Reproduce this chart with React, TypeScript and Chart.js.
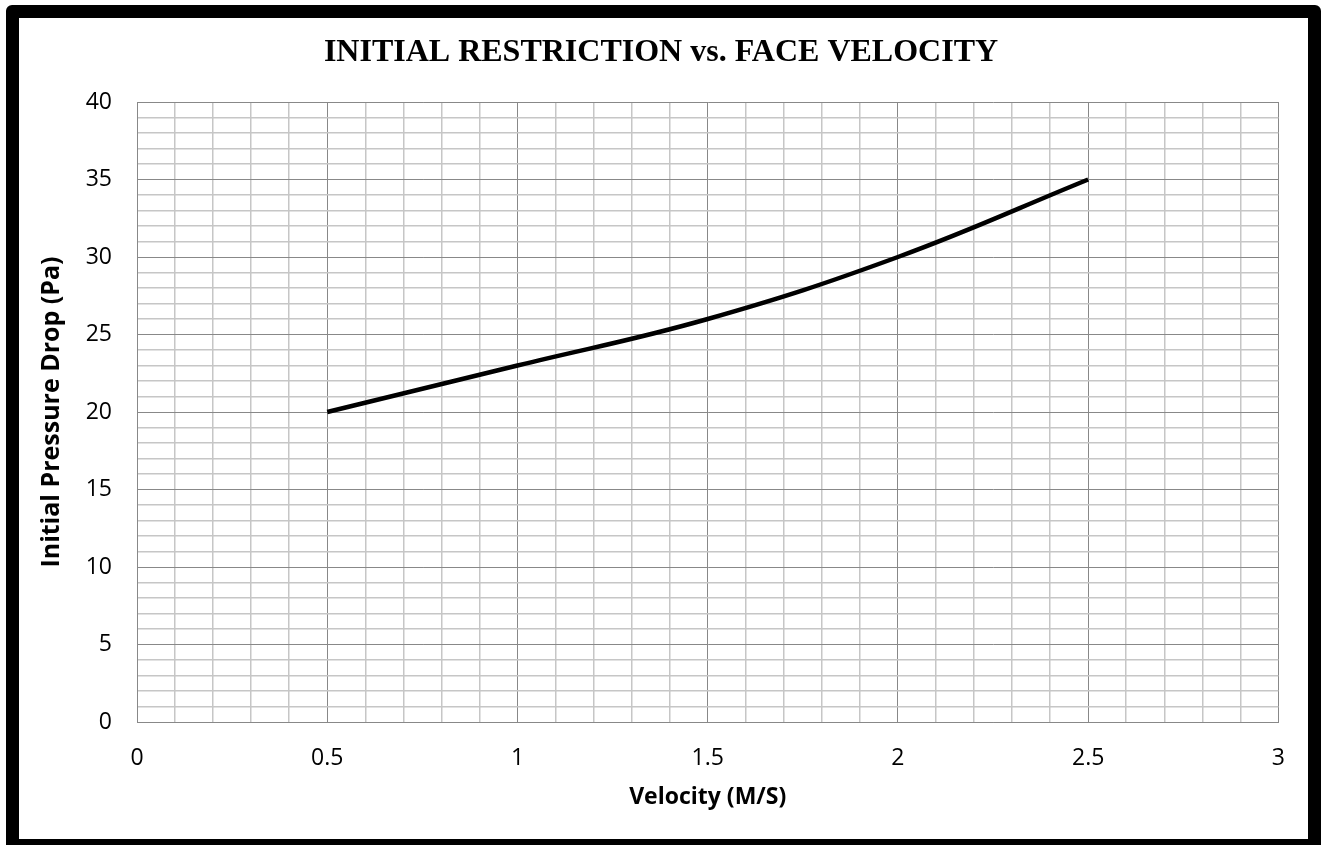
import React, { useEffect, useRef } from "react";
import { Chart, registerables } from "chart.js";

Chart.register(...registerables);

const velocity = [0.5, 1.0, 1.5, 2.0, 2.5];
const pressureDrop = [20, 23, 26, 30, 35];
const chartTitle = "INITIAL RESTRICTION vs. FACE VELOCITY";
const xTitle = "Velocity (M/S)";
const yTitle = "Initial Pressure Drop (Pa)";

const W = 1289;
const H = 821;

export default function App() {
  const ref = useRef<HTMLCanvasElement | null>(null);
  useEffect(() => {
    if (!ref.current) return;
    const isMajorX = (v: number) => Math.abs(Math.round(v * 2) - v * 2) < 1e-6;
    const isMajorY = (v: number) => Math.abs(Math.round(v / 5) - v / 5) < 1e-6;
    const chart = new Chart(ref.current, {
      type: "line",
      data: {
        datasets: [
          {
            data: velocity.map((x, i) => ({ x, y: pressureDrop[i] })),
            borderColor: "#000000",
            borderWidth: 4.5,
            pointRadius: 0,
            tension: 0.4,
            fill: false,
          },
        ],
      },
      options: {
        responsive: false,
        animation: false,
        layout: { padding: { left: 24, right: 29, top: 0, bottom: 0 } },
        plugins: {
          legend: { display: false },
          tooltip: { enabled: false },
          title: {
            display: true,
            text: chartTitle,
            color: "#000000",
            font: { family: "'Liberation Serif', 'Times New Roman', serif", size: 32, weight: "bold" },
            padding: { top: 16, bottom: 29.6 },
          },
        },
        scales: {
          x: {
            type: "linear",
            min: 0,
            max: 3,
            afterFit: (s: any) => {
              s.height = 117;
            },
            ticks: {
              stepSize: 0.1,
              autoSkip: false,
              maxRotation: 0,
              padding: 23,
              color: "#000000",
              font: { family: "'Open Sans', sans-serif", size: 23 },
              callback: (v: any) => (isMajorX(Number(v)) ? String(Math.round(Number(v) * 10) / 10) : ""),
            },
            grid: {
              drawTicks: false,
              color: (c: any) => (isMajorX(c.tick.value) ? "#888888" : "#c6c6c6"),
              lineWidth: (c: any) => (isMajorX(c.tick.value) ? 1 : 1.5),
            },
            border: { color: "#888888", width: 1 },
            title: {
              display: true,
              text: xTitle,
              color: "#000000",
              font: { family: "'Open Sans', sans-serif", size: 23, weight: "bold" },
              padding: { top: 28, bottom: 28 },
            },
          },
          y: {
            type: "linear",
            min: 0,
            max: 40,
            afterFit: (s: any) => {
              s.width = 94;
            },
            ticks: {
              stepSize: 1,
              autoSkip: false,
              padding: 25,
              color: "#000000",
              font: { family: "'Open Sans', sans-serif", size: 23 },
              callback: (v: any) => (isMajorY(Number(v)) ? String(Math.round(Number(v))) : ""),
            },
            grid: {
              drawTicks: false,
              color: (c: any) => (isMajorY(c.tick.value) ? "#888888" : "#c6c6c6"),
              lineWidth: (c: any) => (isMajorY(c.tick.value) ? 1 : 1.5),
            },
            border: { color: "#888888", width: 1 },
            title: {
              display: true,
              text: yTitle,
              color: "#000000",
              font: { family: "'Open Sans', sans-serif", size: 25, weight: "bold" },
              padding: { top: -6, bottom: 0 },
            },
          },
        },
      },
    });
    return () => chart.destroy();
  }, []);

  return (
    <div
      style={{
        position: "absolute",
        left: 6,
        top: 5,
        width: W + 26,
        height: H + 26,
        boxSizing: "border-box",
        border: "13px solid #000",
        borderRadius: 6,
        background: "#fff",
      }}
    >
      <canvas ref={ref} width={W} height={H} style={{ display: "block", width: W, height: H }} />
    </div>
  );
}
